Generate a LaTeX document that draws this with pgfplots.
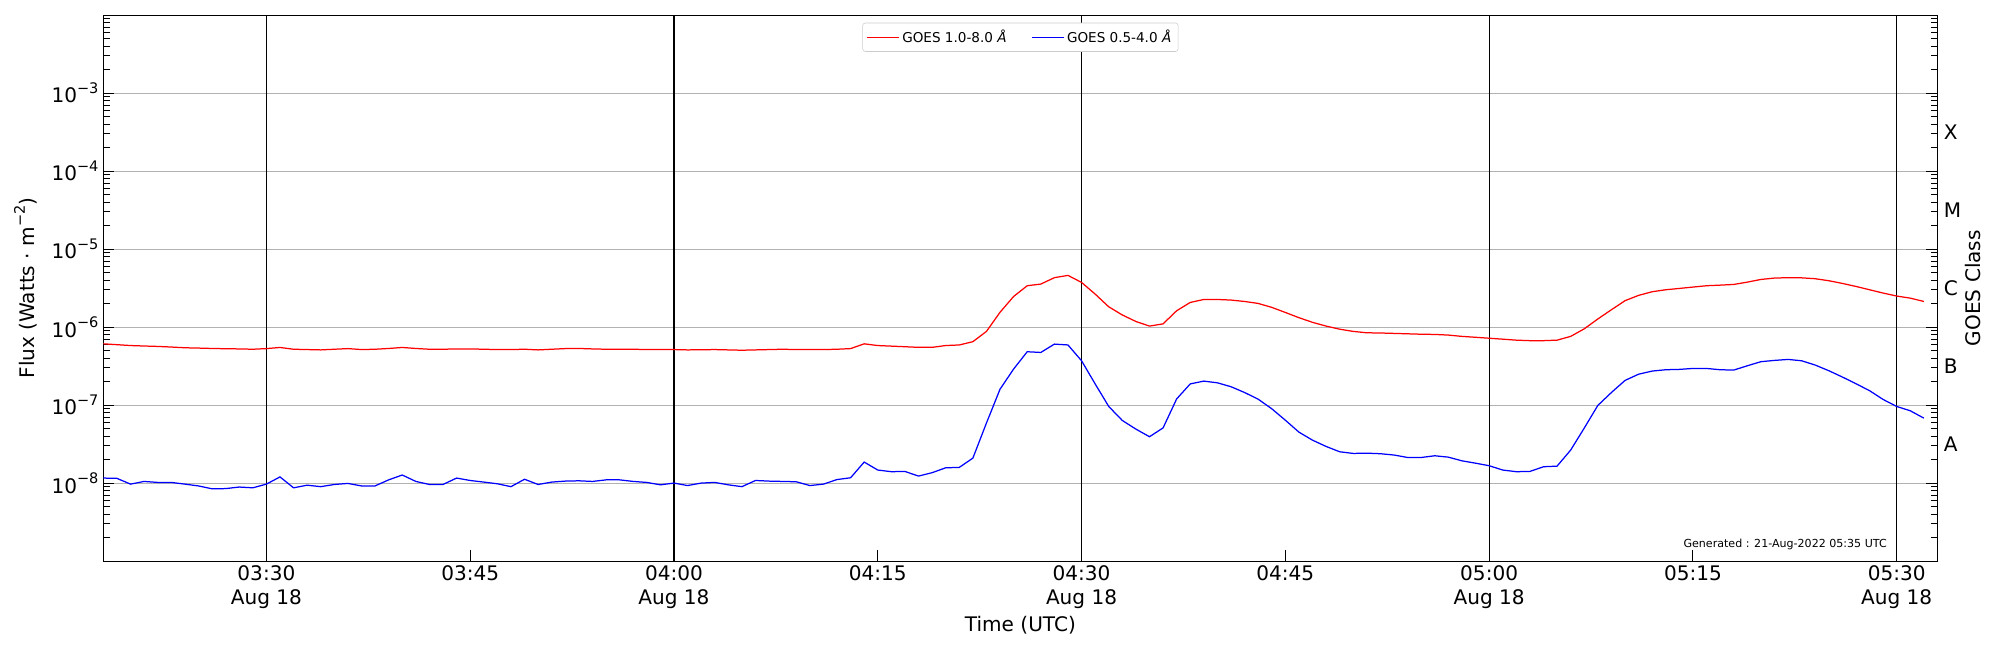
\documentclass[border=0pt]{standalone}
\usepackage{fontspec}
\setmainfont{DejaVu Sans}
\usepackage{pgfplots}
\pgfplotsset{compat=1.18}
\newcommand{\tp}[1]{10\raisebox{0.85ex}{\fontsize{10.5}{10.5}\selectfont −#1}}
\begin{document}
\begin{tikzpicture}
\path[use as bounding box] (-74.7pt,-64.3pt) rectangle (1370.7pt,405.5pt);
\begin{axis}[
  at={(0,0)}, anchor=south west,
  scale only axis, width=1325.5pt, height=394.6pt,
  ymode=log, xmin=18, xmax=153, ymin=1e-9, ymax=1e-2,
  ytick={1e-9,1e-8,1e-7,1e-6,1e-5,1e-4,1e-3,1e-2},
  yticklabels={,\tp{8},\tp{7},\tp{6},\tp{5},\tp{4},\tp{3},},
  ymajorgrids,
  major grid style={draw=black!30, line width=0.7pt},
  xtick={30,45,60,75,90,105,120,135,150},
  xticklabels={{03:30\\Aug 18},{03:45},{04:00\\Aug 18},{04:15},{04:30\\Aug 18},{04:45},{05:00\\Aug 18},{05:15},{05:30\\Aug 18}},
  xticklabel style={align=center},
  extra x ticks={30,60,90,120,150},
  extra x tick labels={},
  extra x tick style={xmajorgrids=true, major grid style={draw=black, line width=0.8pt}},
  xtick pos=bottom,
  tick align=inside,
  major tick length=8pt, minor tick length=5pt,
  tick style={black, line width=0.7pt},
  axis line style={line width=0.8pt},
  ticklabel style={font=\fontsize{14.5}{17}\selectfont},
  label style={font=\fontsize{14.5}{17}\selectfont},
  xlabel={Time (UTC)},
  xlabel style={at={(rel axis cs:0.5,-0.117)}, anchor=center},
  ylabel={Flux (Watts · m\raisebox{0.85ex}{\fontsize{10.5}{10.5}\selectfont −2})},
  ylabel style={at={(rel axis cs:-0.0424,0.5)}, anchor=center},
  legend style={at={(rel axis cs:0.5,0.986)}, anchor=north, legend columns=2,
    font=\fontsize{9.8}{11.5}\selectfont, draw=black!20, rounded corners=2pt,
    inner ysep=3pt,
    /tikz/every even column/.append style={column sep=16pt}},
  legend image code/.code={\draw[#1] (0cm,0cm) -- (0.8cm,0cm);},
  clip=true,
]
\addplot[red, line width=0.9pt] coordinates {
(18,6.1e-7)(19,5.95e-7)(20,5.8e-7)(21,5.72e-7)(22,5.65e-7)(23,5.55e-7)(24,5.43e-7)(25,5.38e-7)(26,5.32e-7)(27,5.28e-7)
(28,5.25e-7)(29,5.2e-7)(30,5.3e-7)(31,5.48e-7)(32,5.2e-7)(33,5.15e-7)(34,5.1e-7)(35,5.2e-7)(36,5.3e-7)(37,5.15e-7)
(38,5.2e-7)(39,5.32e-7)(40,5.48e-7)(41,5.32e-7)(42,5.2e-7)(43,5.2e-7)(44,5.25e-7)(45,5.25e-7)(46,5.2e-7)(47,5.15e-7)
(48,5.15e-7)(49,5.2e-7)(50,5.1e-7)(51,5.2e-7)(52,5.3e-7)(53,5.32e-7)(54,5.25e-7)(55,5.2e-7)(56,5.2e-7)(57,5.2e-7)
(58,5.15e-7)(59,5.15e-7)(60,5.15e-7)(61,5.1e-7)(62,5.12e-7)(63,5.15e-7)(64,5.1e-7)(65,5.05e-7)(66,5.1e-7)(67,5.15e-7)
(68,5.2e-7)(69,5.15e-7)(70,5.15e-7)(71,5.15e-7)(72,5.2e-7)(73,5.3e-7)(74,6.1e-7)(75,5.8e-7)(76,5.7e-7)(77,5.6e-7)
(78,5.5e-7)(79,5.5e-7)(80,5.8e-7)(81,5.9e-7)(82,6.5e-7)(83,8.8e-7)(84,1.55e-6)(85,2.47e-6)(86,3.39e-6)(87,3.56e-6)
(88,4.3e-6)(89,4.6e-6)(90,3.74e-6)(91,2.65e-6)(92,1.82e-6)(93,1.43e-6)(94,1.18e-6)(95,1.03e-6)(96,1.10e-6)(97,1.62e-6)
(98,2.07e-6)(99,2.26e-6)(100,2.26e-6)(101,2.22e-6)(102,2.13e-6)(103,2.01e-6)(104,1.79e-6)(105,1.54e-6)(106,1.32e-6)(107,1.15e-6)
(108,1.03e-6)(109,9.4e-7)(110,8.8e-7)(111,8.45e-7)(112,8.4e-7)(113,8.3e-7)(114,8.2e-7)(115,8.1e-7)(116,8.05e-7)(117,7.9e-7)
(118,7.6e-7)(119,7.4e-7)(120,7.2e-7)(121,7.0e-7)(122,6.8e-7)(123,6.7e-7)(124,6.7e-7)(125,6.8e-7)(126,7.6e-7)(127,9.5e-7)
(128,1.27e-6)(129,1.67e-6)(130,2.18e-6)(131,2.55e-6)(132,2.84e-6)(133,3.01e-6)(134,3.13e-6)(135,3.26e-6)(136,3.39e-6)(137,3.45e-6)
(138,3.52e-6)(139,3.77e-6)(140,4.08e-6)(141,4.25e-6)(142,4.3e-6)(143,4.28e-6)(144,4.17e-6)(145,3.93e-6)(146,3.63e-6)(147,3.32e-6)
(148,3.01e-6)(149,2.73e-6)(150,2.50e-6)(151,2.35e-6)(152,2.13e-6)
};
\addlegendentry{GOES 1.0-8.0 \textit{Å}}
\addplot[blue, line width=0.9pt] coordinates {
(18,1.16e-8)(19,1.15e-8)(20,9.7e-9)(21,1.05e-8)(22,1.02e-8)(23,1.02e-8)(24,9.7e-9)(25,9.2e-9)(26,8.45e-9)(27,8.5e-9)
(28,8.9e-9)(29,8.7e-9)(30,9.7e-9)(31,1.2e-8)(32,8.7e-9)(33,9.4e-9)(34,9.0e-9)(35,9.6e-9)(36,9.9e-9)(37,9.2e-9)
(38,9.2e-9)(39,1.1e-8)(40,1.27e-8)(41,1.05e-8)(42,9.6e-9)(43,9.6e-9)(44,1.16e-8)(45,1.08e-8)(46,1.03e-8)(47,9.8e-9)
(48,9.0e-9)(49,1.12e-8)(50,9.6e-9)(51,1.03e-8)(52,1.06e-8)(53,1.07e-8)(54,1.05e-8)(55,1.1e-8)(56,1.1e-8)(57,1.05e-8)
(58,1.02e-8)(59,9.5e-9)(60,1.0e-8)(61,9.3e-9)(62,1.0e-8)(63,1.02e-8)(64,9.5e-9)(65,9.0e-9)(66,1.08e-8)(67,1.06e-8)
(68,1.05e-8)(69,1.04e-8)(70,9.3e-9)(71,9.7e-9)(72,1.11e-8)(73,1.17e-8)(74,1.86e-8)(75,1.47e-8)(76,1.40e-8)(77,1.41e-8)
(78,1.23e-8)(79,1.36e-8)(80,1.57e-8)(81,1.59e-8)(82,2.09e-8)(83,5.89e-8)(84,1.6e-7)(85,2.9e-7)(86,4.83e-7)(87,4.73e-7)
(88,6.05e-7)(89,5.9e-7)(90,3.7e-7)(91,1.87e-7)(92,9.6e-8)(93,6.35e-8)(94,4.92e-8)(95,3.93e-8)(96,5.1e-8)(97,1.2e-7)
(98,1.87e-7)(99,2.03e-7)(100,1.93e-7)(101,1.72e-7)(102,1.45e-7)(103,1.19e-7)(104,8.97e-8)(105,6.4e-8)(106,4.5e-8)(107,3.55e-8)
(108,2.95e-8)(109,2.52e-8)(110,2.4e-8)(111,2.42e-8)(112,2.38e-8)(113,2.29e-8)(114,2.13e-8)(115,2.13e-8)(116,2.24e-8)(117,2.15e-8)
(118,1.93e-8)(119,1.80e-8)(120,1.67e-8)(121,1.47e-8)(122,1.40e-8)(123,1.41e-8)(124,1.62e-8)(125,1.65e-8)(126,2.65e-8)(127,5.07e-8)
(128,9.9e-8)(129,1.45e-7)(130,2.07e-7)(131,2.49e-7)(132,2.73e-7)(133,2.84e-7)(134,2.87e-7)(135,2.95e-7)(136,2.95e-7)(137,2.84e-7)
(138,2.81e-7)(139,3.19e-7)(140,3.6e-7)(141,3.74e-7)(142,3.85e-7)(143,3.7e-7)(144,3.26e-7)(145,2.76e-7)(146,2.29e-7)(147,1.88e-7)
(148,1.53e-7)(149,1.18e-7)(150,9.6e-8)(151,8.45e-8)(152,6.8e-8)
};
\addlegendentry{GOES 0.5-4.0 \textit{Å}}
\node[anchor=east, font=\fontsize{8}{9.5}\selectfont] at (rel axis cs:0.975,0.03) {Generated : 21-Aug-2022 05:35 UTC};
\end{axis}
\begin{scope}[font=\fontsize{14.5}{17}\selectfont]
\node[anchor=west] at (1326.5pt,{0.2143*394.6pt}) {A};
\node[anchor=west] at (1326.5pt,{0.3571*394.6pt}) {B};
\node[anchor=west] at (1326.5pt,{0.5*394.6pt}) {C};
\node[anchor=west] at (1326.5pt,{0.6429*394.6pt}) {M};
\node[anchor=west] at (1326.5pt,{0.7857*394.6pt}) {X};
\node[rotate=90, anchor=center] at (1351.3pt,{0.5*394.6pt}) {GOES Class};
\end{scope}
\end{tikzpicture}
\end{document}
